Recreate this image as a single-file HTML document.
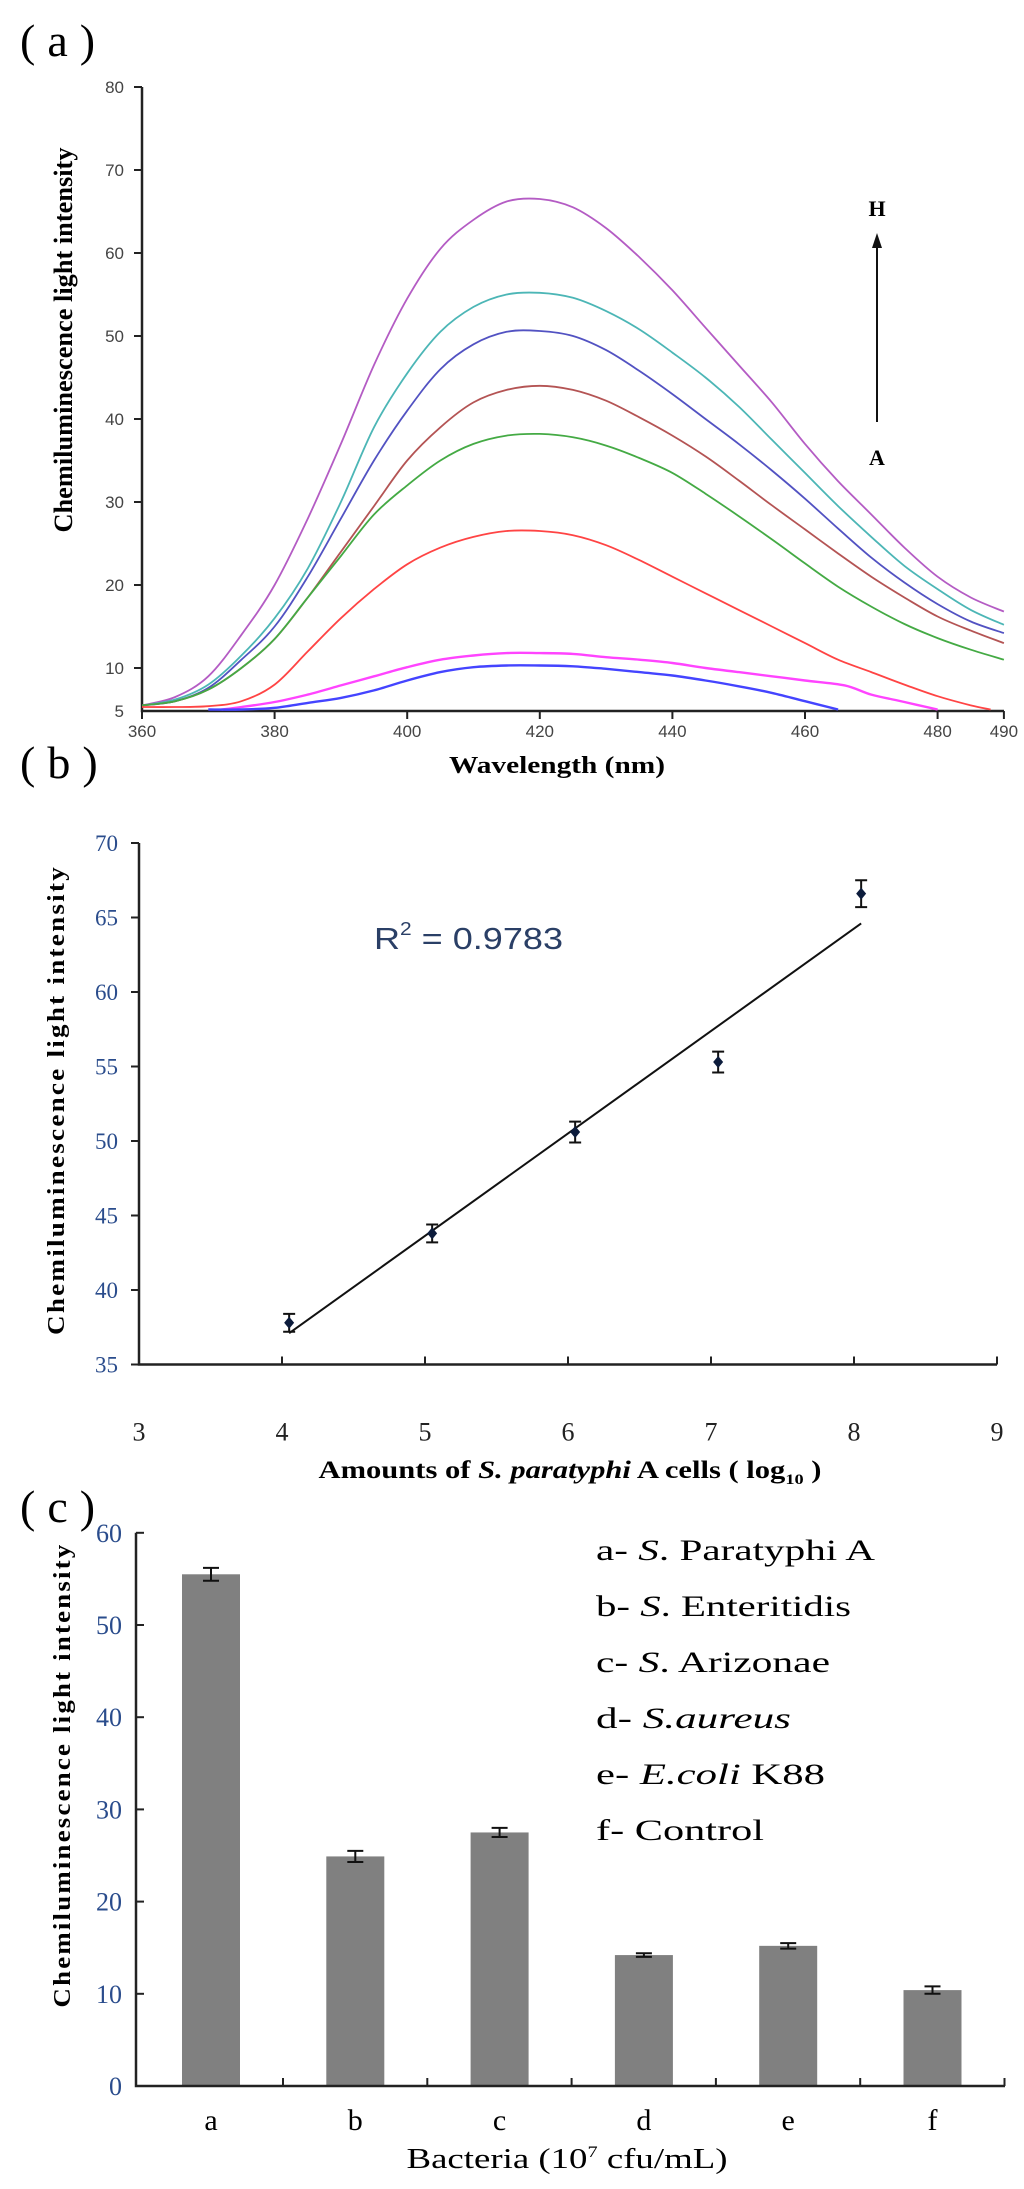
<!DOCTYPE html>
<html><head><meta charset="utf-8">
<style>
html,body{margin:0;padding:0;background:#fff;}
svg{display:block;}
</style></head>
<body>
<svg id="fig" width="1024" height="2189" viewBox="0 0 1024 2189" xmlns="http://www.w3.org/2000/svg">
<defs><clipPath id="clipA"><rect x="142" y="70" width="864" height="641"/></clipPath></defs>
<g id="panelA"></g>
<g id="panelB"></g>
<g id="panelC"></g>
</svg>
<script>
// ---------- Panel A data ----------
const aWl = [360,365,370,375,380,385,390,395,400,405,410,415,420,425,430,435,440,445,450,455,460,465,470,475,480,485,490];
const aPurple = [5.5,6.5,9,14,20,28,37,46.5,54.5,60.5,64,66.2,66.5,65.5,63,59.5,55.5,51,46.5,42,37,32.5,28.5,24.5,21,18.5,16.8];
const aCyan   = [5.5,6.2,8,11.5,16,22,30,39,45.5,50.5,53.5,55,55.2,54.6,53,50.8,48,45,41.5,37.5,33.5,29.5,25.8,22.3,19.5,17,15.2];
const aBlue   = [5.5,6,7.6,11,15,21,28,35,41,46,49,50.5,50.6,50,48.3,45.8,43,40,37,33.8,30.4,26.8,23.3,20.3,17.7,15.6,14.2];
const aBrown  = [5.5,6,7.4,10,13.5,18.5,24,29.5,35,39,42,43.5,44,43.5,42.2,40.2,38,35.5,32.6,29.6,26.7,23.8,21,18.5,16.2,14.5,13];
const aGreen  = [5.5,6,7.4,10,13.5,18.5,23.5,28.5,32,35,37,38,38.2,37.8,36.8,35.3,33.5,31,28.3,25.5,22.6,19.8,17.4,15.3,13.6,12.2,11];
const aRedWl  = [360,365,370,375,380,385,390,395,400,405,410,415,420,425,430,435,440,445,450,455,460,465,470,475,480,485,488];
const aRed    = [5.3,5.3,5.4,6,8,12,16,19.5,22.5,24.5,25.8,26.5,26.5,26,24.8,23,21,19,17,15,13,11,9.5,8,6.6,5.5,5];
const aMagWl  = [372,375,380,385,390,395,400,405,410,415,420,425,430,435,440,445,450,455,460,466,470,475,480];
const aMag    = [5,5.3,5.9,6.8,7.9,9,10.1,11,11.5,11.8,11.8,11.7,11.3,11,10.6,10,9.5,9,8.5,7.9,6.8,5.9,5];
const aDbWl   = [370,375,380,385,390,395,400,405,410,415,420,425,430,435,440,445,450,455,460,465];
const aDb     = [5,5,5.2,5.8,6.4,7.3,8.5,9.5,10.1,10.3,10.3,10.2,9.9,9.5,9.1,8.5,7.8,7,6,5];
const aXTicks = [360,380,400,420,440,460,480,490];
const aYTicks = [10,20,30,40,50,60,70,80];

// ---------- Panel B data ----------
const bX    = [4.05,5.05,6.05,7.05,8.05];
const bY    = [37.8,43.8,50.6,55.3,66.6];
const bErr  = [0.6,0.6,0.7,0.7,0.9];
const bFitX = [4.05,8.05];
const bFitY = [37.1,64.6];
const bXTicks = [3,4,5,6,7,8,9];
const bYTicks = [35,40,45,50,55,60,65,70];

// ---------- Panel C data ----------
const cCats = ['a','b','c','d','e','f'];
const cVals = [55.5,24.9,27.5,14.2,15.2,10.4];
const cErrs = [0.7,0.6,0.5,0.2,0.3,0.4];
const cYTicks = [0,10,20,30,40,50,60];
const cLegend = [['a-  ','S','. Paratyphi A',279],['b-  ','S','. Enteritidis',255],['c-   ','S','. Arizonae',234],['d-  ','S','.',195],['e-  ','E.coli',' K88',229],['f-  ','','Control',168]];

const NS='http://www.w3.org/2000/svg';
function mk(parent, tag, attrs, text){
  const e=document.createElementNS(NS,tag);
  for(const k in attrs) e.setAttribute(k,attrs[k]);
  if(text!==undefined) e.textContent=text;
  parent.appendChild(e); return e;
}
function smooth(pts){
  let d='M'+pts[0][0].toFixed(1)+','+pts[0][1].toFixed(1);
  for(let i=0;i<pts.length-1;i++){
    const p0=pts[i-1]||pts[i],p1=pts[i],p2=pts[i+1],p3=pts[i+2]||p2;
    const c1=[p1[0]+(p2[0]-p0[0])/6,p1[1]+(p2[1]-p0[1])/6];
    const c2=[p2[0]-(p3[0]-p1[0])/6,p2[1]-(p3[1]-p1[1])/6];
    d+=' C'+c1[0].toFixed(1)+','+c1[1].toFixed(1)+' '+c2[0].toFixed(1)+','+c2[1].toFixed(1)+' '+p2[0].toFixed(1)+','+p2[1].toFixed(1);
  }
  return d;
}
const serif='"Liberation Serif",serif';
const sans='"Liberation Sans",sans-serif';
function panelLabel(g,letter,y,name){
  const t=mk(g,'text',{x:20,y:y,'font-family':serif,'font-size':46});
  
  
  t.innerHTML='<tspan>(</tspan><tspan dx="12">'+letter+'</tspan><tspan dx="12">)</tspan>';
}

// ================= PANEL A =================
(function(){
  const g=document.getElementById('panelA');
  const xA=v=>142+(v-360)*6.63;
  const yA=v=>668-(v-10)*8.3;
  panelLabel(g,'a',56,'panel-a-label');
  let ax=mk(g,'path',{d:'M142,87 L142,711 L1004,711',fill:'none',stroke:'#222','stroke-width':2.5});
  
  
  aYTicks.forEach(v=>{
    const y=yA(v);
    mk(g,'line',{x1:134,x2:142,y1:y,y2:y,stroke:'#222','stroke-width':2});
    const l=mk(g,'text',{x:124,y:y+6,'text-anchor':'end','font-family':sans,'font-size':17,fill:'#444'},String(v));
    
    
  });
  let l5=mk(g,'text',{x:124,y:717,'text-anchor':'end','font-family':sans,'font-size':17,fill:'#444'},'5');
  
  
  aXTicks.forEach(v=>{
    const x=xA(v);
    mk(g,'line',{x1:x,x2:x,y1:711,y2:719,stroke:'#222','stroke-width':2});
    const l=mk(g,'text',{x:x,y:737,'text-anchor':'middle','font-family':sans,'font-size':17,fill:'#444'},String(v));
    
    
  });
  let t=mk(g,'text',{x:557,y:773,'text-anchor':'middle','font-family':serif,'font-size':24,'font-weight':'bold',textLength:216,lengthAdjust:'spacingAndGlyphs'},'Wavelength (nm)');
  
  
  t=mk(g,'text',{x:0,y:0,'text-anchor':'middle','font-family':serif,'font-size':26,'font-weight':'bold',textLength:385,lengthAdjust:'spacingAndGlyphs',transform:'translate(72,340) rotate(-90)'},'Chemiluminescence light intensity');
  
  
  const curves=[
    ['curve-h-purple',aWl,aPurple,'#b45cc4'],
    ['curve-cyan',aWl,aCyan,'#4cb6b6'],
    ['curve-blue',aWl,aBlue,'#5252c2'],
    ['curve-brown',aWl,aBrown,'#b45454'],
    ['curve-green',aWl,aGreen,'#44aa44'],
    ['curve-red',aRedWl,aRed,'#ff4444'],
    ['curve-magenta',aMagWl,aMag,'#ff44ff'],
    ['curve-a-blue',aDbWl,aDb,'#4444ff']
  ];
  const cg=mk(g,'g',{'clip-path':'url(#clipA)'});
  curves.forEach(c=>{
    const pts=c[1].map((w,i)=>[xA(w),yA(c[2][i])]);
    const p=mk(cg,'path',{d:smooth(pts),fill:'none',stroke:c[3],'stroke-width':c[0].indexOf('magenta')>=0||c[0].indexOf('a-blue')>=0?2.4:1.8});
    
    
  });
  t=mk(g,'text',{x:877,y:216,'text-anchor':'middle','font-family':serif,'font-size':22,'font-weight':'bold'},'H');
  
  
  let ar=mk(g,'line',{x1:877,x2:877,y1:422,y2:244,stroke:'#111','stroke-width':2});
  
  
  mk(g,'path',{d:'M872,248 L877,233 L882,248 Z',fill:'#111'});
  t=mk(g,'text',{x:877,y:465,'text-anchor':'middle','font-family':serif,'font-size':22,'font-weight':'bold'},'A');
  
  
})();

// ================= PANEL B =================
(function(){
  const g=document.getElementById('panelB');
  const xB=v=>139+(v-3)*143;
  const yB=v=>843+(70-v)*14.9;
  panelLabel(g,'b',778,'panel-b-label');
  let ax=mk(g,'path',{d:'M139,'+yB(70)+' L139,'+yB(35)+' L'+xB(9)+','+yB(35),fill:'none',stroke:'#222','stroke-width':2.5});
  
  
  bYTicks.forEach(v=>{
    const y=yB(v);
    mk(g,'line',{x1:131,x2:139,y1:y,y2:y,stroke:'#222','stroke-width':2});
    const l=mk(g,'text',{x:118,y:y+8,'text-anchor':'end','font-family':serif,'font-size':23,fill:'#2a4c8c'},String(v));
    
    
  });
  bXTicks.forEach(v=>{
    const x=xB(v);
    mk(g,'line',{x1:x,x2:x,y1:yB(35)-8,y2:yB(35),stroke:'#222','stroke-width':2});
    const l=mk(g,'text',{x:x,y:yB(35)+76,'text-anchor':'middle','font-family':serif,'font-size':26,fill:'#222'},String(v));
    
    
  });
  let t=mk(g,'text',{x:570,y:1478,'text-anchor':'middle','font-family':serif,'font-size':25,'font-weight':'bold',textLength:503,lengthAdjust:'spacingAndGlyphs'});
  
  
  t.innerHTML='Amounts of <tspan font-style="italic">S. paratyphi</tspan> A cells ( log<tspan font-size="15" dy="6">10</tspan><tspan dy="-6"> )</tspan>';
  t=mk(g,'text',{x:0,y:0,'text-anchor':'middle','font-family':serif,'font-size':24,'font-weight':'bold','letter-spacing':2,textLength:470,lengthAdjust:'spacingAndGlyphs',transform:'translate(64,1100) rotate(-90)'},'Chemiluminescence light intensity');
  
  
  let fit=mk(g,'line',{x1:xB(bFitX[0]),y1:yB(bFitY[0]),x2:xB(bFitX[1]),y2:yB(bFitY[1]),stroke:'#111','stroke-width':2});
  
  
  bX.forEach((xv,i)=>{
    const x=xB(xv), y=yB(bY[i]), e1=yB(bY[i]+bErr[i]), e2=yB(bY[i]-bErr[i]);
    const eb=mk(g,'path',{d:'M'+x+','+e1+' L'+x+','+e2+' M'+(x-6)+','+e1+' L'+(x+6)+','+e1+' M'+(x-6)+','+e2+' L'+(x+6)+','+e2,stroke:'#111','stroke-width':2,fill:'none'});
    
    
    const p=mk(g,'path',{d:'M'+x+','+(y-6)+' L'+(x+5)+','+y+' L'+x+','+(y+6)+' L'+(x-5)+','+y+' Z',fill:'#0c1c3c'});
    
    
  });
  t=mk(g,'text',{x:374,y:yB(62.9),'font-family':sans,'font-size':31,fill:'#2a3f66',textLength:189,lengthAdjust:'spacingAndGlyphs'});
  
  
  t.innerHTML='R<tspan font-size="18" dy="-14">2</tspan><tspan dy="14"> = 0.9783</tspan>';
})();

// ================= PANEL C =================
(function(){
  const g=document.getElementById('panelC');
  const yC=v=>2086-v*9.22;
  const xC=i=>211+i*144.3;
  panelLabel(g,'c',1522,'panel-c-label');
  cVals.forEach((v,i)=>{
    const x=xC(i);
    const r=mk(g,'rect',{x:x-29,y:yC(v),width:58,height:yC(0)-yC(v),fill:'#808080'});
    
    
    const e1=yC(v+cErrs[i]), e2=yC(v-cErrs[i]);
    const eb=mk(g,'path',{d:'M'+x+','+e1+' L'+x+','+e2+' M'+(x-8)+','+e1+' L'+(x+8)+','+e1+' M'+(x-8)+','+e2+' L'+(x+8)+','+e2,stroke:'#111','stroke-width':2,fill:'none'});
    
    
    const l=mk(g,'text',{x:x,y:2130,'text-anchor':'middle','font-family':serif,'font-size':30},cCats[i]);
    
    
    const tx=x+72;
    mk(g,'line',{x1:tx,x2:tx,y1:2078,y2:2086,stroke:'#222','stroke-width':2});
  });
  let ax=mk(g,'path',{d:'M136,'+yC(60)+' L136,2086 L1005,2086',fill:'none',stroke:'#222','stroke-width':2.5});
  
  
  cYTicks.forEach(v=>{
    const y=yC(v);
    mk(g,'line',{x1:136,x2:144,y1:y,y2:y,stroke:'#222','stroke-width':2});
    const l=mk(g,'text',{x:122,y:y+9,'text-anchor':'end','font-family':serif,'font-size':26,fill:'#2a4c8c'},String(v));
    
    
  });
  let t=mk(g,'text',{x:567,y:2168,'text-anchor':'middle','font-family':serif,'font-size':29,textLength:321,lengthAdjust:'spacingAndGlyphs'});
  
  
  t.innerHTML='Bacteria (10<tspan font-size="16" dy="-11">7</tspan><tspan dy="11"> cfu/mL)</tspan>';
  t=mk(g,'text',{x:0,y:0,'text-anchor':'middle','font-family':serif,'font-size':24,'font-weight':'bold','letter-spacing':2,textLength:465,lengthAdjust:'spacingAndGlyphs',transform:'translate(70,1775) rotate(-90)'},'Chemiluminescence light intensity');
  
  
  const ly=[1550,1606,1662,1718,1774,1830];
  cLegend.forEach((L,i)=>{
    const e=mk(g,'text',{x:596,y:ly[i]+10,'font-family':serif,'font-size':30,textLength:L[3],lengthAdjust:'spacingAndGlyphs'});
    
    
    if(i===3) e.innerHTML='d-  <tspan font-style="italic">S.aureus</tspan>';
    else e.innerHTML=L[0]+(L[1]?'<tspan font-style="italic">'+L[1]+'</tspan>':'')+L[2];
  });
})();
</script>
</body></html>
